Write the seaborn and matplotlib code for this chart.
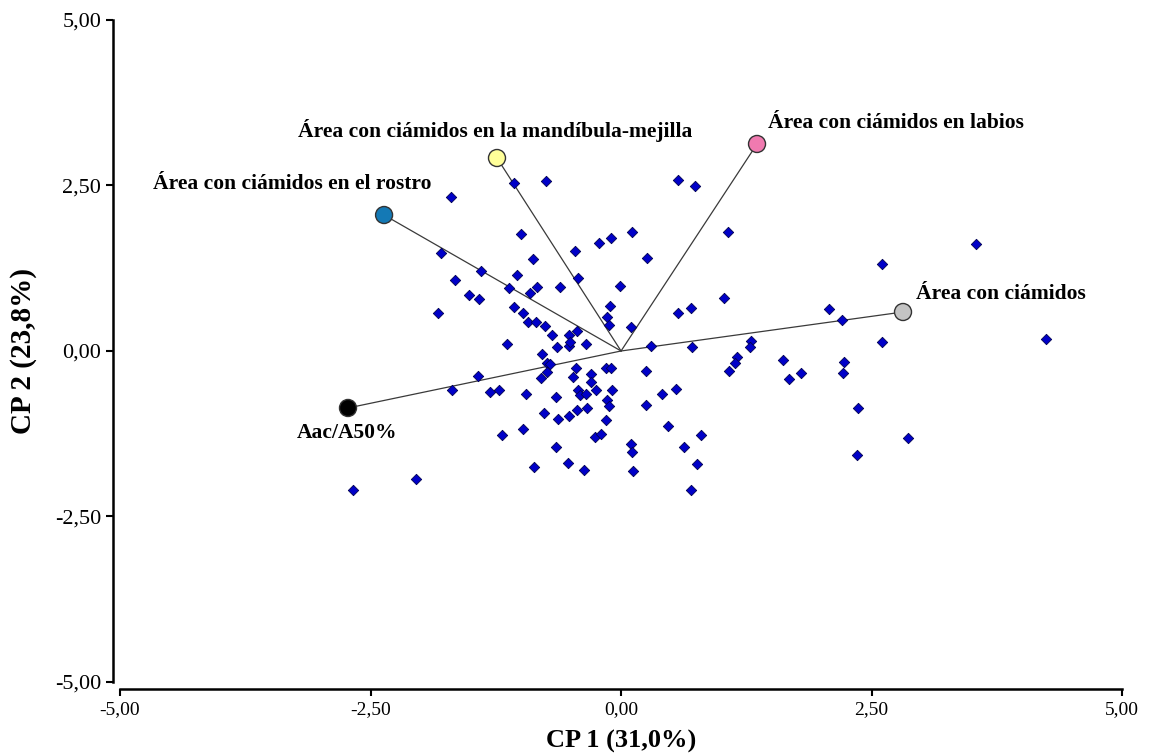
import matplotlib
matplotlib.use("Agg")
import matplotlib.pyplot as plt
import seaborn as sns
import pandas as pd

# ---- Observation scores (CP 1, CP 2) ----
cp1_scores = [
    -1.071, -0.747, 0.571, 0.741, -1.700, -1.003, 0.110, -0.105, -0.217, -0.464,
    -1.799, -0.878, 0.256, -1.397, -1.036, -0.429, -1.655, -0.835, -0.609, -1.116,
    -0.015, -1.522, -1.417, -0.905, -0.115, -1.071, -1.823, -0.980, -0.137, 0.571,
    0.694, -0.925, -0.845, -0.755, -0.117, 0.098, -0.686, -0.519, -0.441, -1.138,
    -0.644, -0.519, -0.509, -0.351, 0.299, 0.706, -0.788, 1.065, 3.540, 2.605,
    1.031, 2.076, 2.201, 1.300, 1.290, 2.605, 4.237, 1.153, 1.617, -0.150,
    -0.105, 0.251, 1.141, 1.075, 2.223, 2.213, 1.674, 1.796, -0.093, -0.137,
    -0.125, 0.412, 0.549, 0.245, 2.368, -0.150, 0.469, 0.795, 0.100, 0.110,
    0.629, 2.864, 2.357, 0.761, 0.120, 0.694, -0.739, -0.709, -0.454, -0.734,
    -0.801, -0.476, -0.296, -0.296, -1.430, -1.690, -1.309, -1.218, -0.948, -0.429,
    -0.407, -0.352, -0.250, -0.646, -0.768, -0.632, -0.521, -0.442, -0.341, -1.186,
    -0.981, -0.262, -0.205, -0.646, -0.870, -0.532, -0.374, -2.049, -2.678,
]
cp2_scores = [
    2.530, 2.563, 2.580, 2.497, 2.331, 1.760, 1.793, 1.707, 1.627, 1.508,
    1.473, 1.390, 1.405, 1.205, 1.153, 1.103, 1.073, 0.971, 0.971, 0.955,
    0.986, 0.850, 0.789, 0.869, 0.684, 0.669, 0.569, 0.569, 0.518, 0.569,
    0.654, 0.434, 0.434, 0.382, 0.397, 0.367, 0.246, 0.249, 0.299, 0.101,
    0.065, 0.080, 0.136, 0.101, 0.080, 0.065, -0.050, 1.793, 1.621, 1.307,
    0.805, 0.634, 0.468, 0.151, 0.065, 0.131, 0.181, -0.098, -0.131, -0.252,
    -0.252, -0.302, -0.186, -0.302, -0.171, -0.337, -0.423, -0.337, -0.594, -0.745,
    -0.831, -0.645, -0.579, -0.813, -0.866, -1.050, -1.133, -1.269, -1.400, -1.533,
    -1.450, -1.319, -1.571, -1.702, -1.820, -2.107, -0.181, -0.201, -0.252, -0.322,
    -0.403, -0.388, -0.352, -0.473, -0.385, -0.594, -0.615, -0.594, -0.645, -0.594,
    -0.665, -0.645, -0.594, -0.695, -0.941, -1.032, -0.982, -0.896, -0.866, -1.264,
    -1.183, -1.299, -1.249, -1.450, -1.752, -1.687, -1.802, -1.934, -2.104,
]

# ---- Variable vectors (loadings, scaled) ----
var_names = [
    "Área con ciámidos en el rostro",
    "Área con ciámidos en la mandíbula-mejilla",
    "Área con ciámidos en labios",
    "Área con ciámidos",
    "Aac/A50%",
]
var_cp1 = [-2.365, -1.238, 1.357, 2.814, -2.725]
var_cp2 = [2.054, 2.915, 3.127, 0.589, -0.861]
var_colors = ["#1479b5", "#ffff99", "#f07ab0", "#c4c4c4", "#000000"]
# label offsets in points (dx, dy) and horizontal alignment
label_offsets = [(-66, 22), (-1, 20), (8, 15), (9, 13), (-1, -18)]
label_ha = ["center", "center", "left", "left", "center"]

tick_vals = [-5.0, -2.5, 0.0, 2.5, 5.0]
tick_labels = ["-5,00", "-2,50", "0,00", "2,50", "5,00"]

scores = pd.DataFrame({"CP1": cp1_scores, "CP2": cp2_scores})
vectors = pd.DataFrame({"CP1": var_cp1, "CP2": var_cp2, "var": var_names})

sns.set_theme(style="ticks")
plt.rcParams["font.family"] = ["Liberation Serif", "DejaVu Serif"]
plt.rcParams["axes.labelcolor"] = "black"
plt.rcParams["text.color"] = "black"

fig = plt.figure(figsize=(11.52, 7.54), dpi=100)
ax = fig.add_axes([0.1042, 0.0955, 0.8698, 0.878])

# vector lines from the origin
for x, y in zip(var_cp1, var_cp2):
    ax.plot([0, x], [0, y], color="#3a3a3a", lw=0.9, zorder=1)

sns.scatterplot(data=scores, x="CP1", y="CP2", marker="D", s=28,
                color="#0000c8", edgecolor="#000050", linewidth=0.6,
                ax=ax, zorder=3, legend=False)

sns.scatterplot(data=vectors, x="CP1", y="CP2", hue="var",
                palette=dict(zip(var_names, var_colors)), s=150,
                edgecolor="#333333", linewidth=1.0, ax=ax, zorder=4,
                legend=False)

for name, x, y, off, ha in zip(var_names, var_cp1, var_cp2, label_offsets, label_ha):
    ax.annotate(name, (x, y), xytext=off, textcoords="offset points",
                ha=ha, va="center", fontsize=15.5, fontweight="bold",
                color="#000000")

ax.set_xlim(-5, 5)
ax.set_ylim(-5, 5)
ax.set_xticks(tick_vals)
ax.set_xticklabels(tick_labels)
ax.set_yticks(tick_vals)
ax.set_yticklabels(tick_labels)
ax.tick_params(axis="both", length=5, width=1.5, color="black",
               labelcolor="black", direction="out")
ax.tick_params(axis="x", labelsize=14)
ax.tick_params(axis="y", labelsize=16)
ax.set_xlabel("CP 1 (31,0%)", fontsize=19, fontweight="bold", labelpad=9,
              color="black")
ax.set_ylabel("CP 2 (23,8%)", fontsize=21, fontweight="bold", labelpad=13,
              color="black")

sns.despine(ax=ax, offset=5, trim=True)
for side in ["left", "bottom"]:
    ax.spines[side].set_linewidth(1.8)
    ax.spines[side].set_color("black")

fig.savefig("out.png", dpi=100)
